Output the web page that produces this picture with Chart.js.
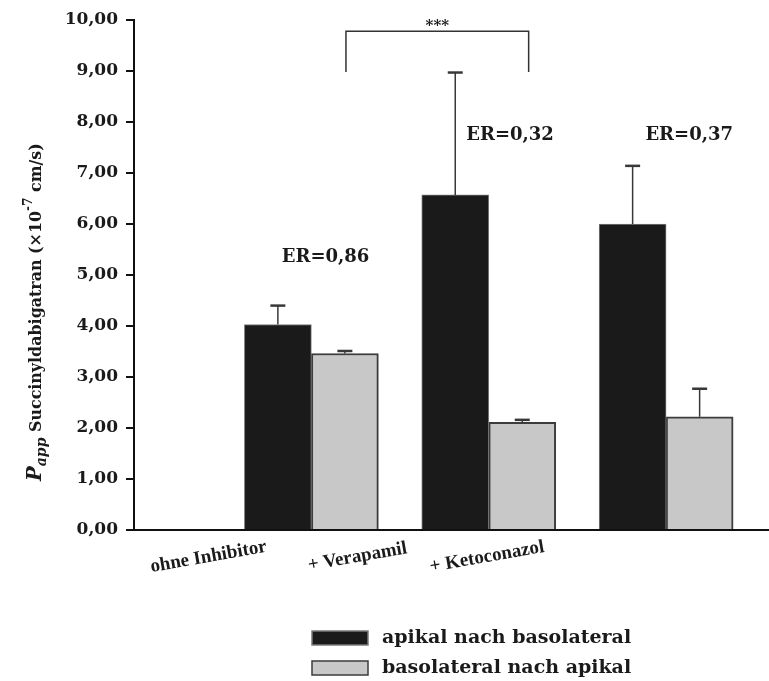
<!DOCTYPE html>
<html>
<head>
<meta charset="utf-8">
<script src="https://cdn.jsdelivr.net/npm/chart.js@4"></script>
<style>html,body{margin:0;background:#fff}</style>
</head>
<body>
<canvas id="c" width="769" height="681"></canvas>
<script>
// values (x10^-7 cm/s)
const groups = ['ohne Inhibitor', '+ Verapamil', '+ Ketoconazol'];
const seriesNames = ['apikal nach basolateral', 'basolateral nach apikal'];
const apikalBaso = [4.03, 6.57, 6.00];
const apikalBasoErr = [0.37, 2.40, 1.14];
const basoApikal = [3.46, 2.11, 2.22];
const basoApikalErr = [0.05, 0.05, 0.55];
const effluxRatios = ['ER=0,86', 'ER=0,32', 'ER=0,37'];
const yTicks = [0, 1, 2, 3, 4, 5, 6, 7, 8, 9, 10];

// annotation anchors in data units
const erAnchors = [[1.08, 5.35], [2.12, 7.73], [3.13, 7.73]];
const groupLabelX = [0.42, 1.26, 1.99];
const bracket = { x0: 1.195, x1: 2.225, top: 9.78, leg: 8.98, label: '***' };

const SERIF = '"DejaVu Serif"';
const INK = '#1a1a1a';

const errorBars = {
  id: 'errorBars',
  afterDatasetsDraw(chart) {
    const { ctx } = chart;
    const y = chart.scales.y;
    chart.data.datasets.forEach((ds, di) => {
      chart.getDatasetMeta(di).data.forEach((bar, i) => {
        const top = y.getPixelForValue(ds.data[i].y + ds.errors[i]);
        ctx.save();
        ctx.strokeStyle = '#383838';
        ctx.lineWidth = 1.5;
        ctx.beginPath();
        ctx.moveTo(bar.x, bar.y);
        ctx.lineTo(bar.x, top);
        ctx.stroke();
        ctx.lineWidth = 2.5;
        ctx.beginPath();
        ctx.moveTo(bar.x - 7.5, top);
        ctx.lineTo(bar.x + 7.5, top);
        ctx.stroke();
        ctx.restore();
      });
    });
  }
};

const extras = {
  id: 'extras',
  afterDraw(chart) {
    const { ctx, scales: { x, y } } = chart;
    ctx.save();
    ctx.fillStyle = INK;

    // efflux ratios
    ctx.font = `bold 18px ${SERIF}`;
    ctx.textAlign = 'center';
    ctx.textBaseline = 'middle';
    effluxRatios.forEach((t, i) => {
      ctx.fillText(t, x.getPixelForValue(erAnchors[i][0]), y.getPixelForValue(erAnchors[i][1]));
    });

    // significance bracket
    const bx0 = x.getPixelForValue(bracket.x0), bx1 = x.getPixelForValue(bracket.x1);
    const by = y.getPixelForValue(bracket.top), bl = y.getPixelForValue(bracket.leg);
    ctx.strokeStyle = '#333';
    ctx.lineWidth = 1.5;
    ctx.beginPath();
    ctx.moveTo(bx0, bl);
    ctx.lineTo(bx0, by);
    ctx.lineTo(bx1, by);
    ctx.lineTo(bx1, bl);
    ctx.stroke();
    ctx.font = `bold 15px ${SERIF}`;
    ctx.textBaseline = 'alphabetic';
    ctx.fillText(bracket.label, (bx0 + bx1) / 2, by - 1);

    // slanted group labels
    ctx.font = 'bold 19px "Liberation Serif"';
    ctx.textBaseline = 'middle';
    groups.forEach((g, i) => {
      ctx.save();
      ctx.translate(x.getPixelForValue(groupLabelX[i]), 557);
      ctx.rotate(-10 * Math.PI / 180);
      ctx.fillText(g, 0, 0);
      ctx.restore();
    });

    // y axis title with italic subscript and superscript
    const parts = [
      { t: 'P', f: 'italic bold', s: 21, dy: 0 },
      { t: 'app', f: 'italic bold', s: 15, dy: 5 },
      { t: ' Succinyldabigatran (\u00d710', f: 'bold', s: 17, dy: 0 },
      { t: '-7', f: 'bold', s: 13, dy: -10 },
      { t: ' cm/s)', f: 'bold', s: 17, dy: 0 }
    ];
    let total = 0;
    parts.forEach(p => { ctx.font = `${p.f} ${p.s}px ${SERIF}`; total += ctx.measureText(p.t).width; });
    const k = 338 / total;
    ctx.save();
    ctx.translate(41, 481);
    ctx.rotate(-Math.PI / 2);
    ctx.textAlign = 'left';
    ctx.textBaseline = 'alphabetic';
    let px = 0;
    parts.forEach(p => {
      ctx.font = `${p.f} ${(p.s * k).toFixed(2)}px ${SERIF}`;
      ctx.fillText(p.t, px, p.dy * k);
      px += ctx.measureText(p.t).width;
    });
    ctx.restore();

    // legend
    ctx.font = `bold 19px ${SERIF}`;
    ctx.textAlign = 'left';
    ctx.textBaseline = 'middle';
    chart.data.datasets.forEach((ds, i) => {
      const ty = 638 + i * 30;
      ctx.fillStyle = ds.backgroundColor;
      ctx.fillRect(312, ty - 7, 56, 14);
      ctx.strokeStyle = ds.borderColor;
      ctx.lineWidth = 1.5;
      ctx.strokeRect(312, ty - 7, 56, 14);
      ctx.fillStyle = INK;
      ctx.fillText(ds.label, 382, ty);
    });
    ctx.restore();
  }
};

new Chart(document.getElementById('c'), {
  type: 'bar',
  data: {
    datasets: [
      {
        label: seriesNames[0],
        data: apikalBaso.map((v, i) => ({ x: i + 1, y: v })),
        errors: apikalBasoErr,
        backgroundColor: '#1a1a1a',
        borderColor: '#7a7a7a',
        borderWidth: 1
      },
      {
        label: seriesNames[1],
        data: basoApikal.map((v, i) => ({ x: i + 1, y: v })),
        errors: basoApikalErr,
        backgroundColor: '#c8c8c8',
        borderColor: '#3c3c3c',
        borderWidth: 2
      }
    ]
  },
  options: {
    responsive: false,
    animation: false,
    devicePixelRatio: 1,
    barThickness: 67,
    layout: { padding: { top: 20, right: 0, left: 0, bottom: 0 } },
    plugins: { legend: { display: false }, tooltip: { enabled: false } },
    scales: {
      x: {
        type: 'linear',
        offset: false,
        min: 0,
        max: 3.58,
        ticks: { display: false },
        grid: { display: false, offset: false },
        border: { display: true, color: '#111', width: 2 },
        afterFit(s) { s.height = 151; }
      },
      y: {
        min: 0,
        max: 10,
        afterBuildTicks(s) { s.ticks = yTicks.map(v => ({ value: v })); },
        ticks: {
          color: INK,
          padding: 8,
          font: { family: SERIF, size: 17, weight: 'bold' },
          callback: v => v.toFixed(2).replace('.', ',')
        },
        grid: { drawOnChartArea: false, drawTicks: true, tickLength: 8, color: '#111', lineWidth: 2 },
        border: { display: true, color: '#111', width: 2 },
        afterFit(s) { s.width = 134; }
      }
    }
  },
  plugins: [errorBars, extras]
});
</script>
</body>
</html>
